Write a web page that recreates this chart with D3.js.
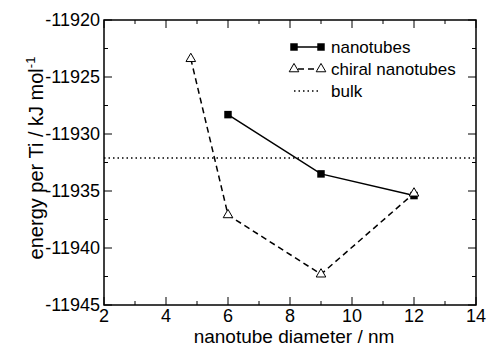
<!DOCTYPE html>
<html>
<head>
<meta charset="utf-8">
<script src="https://cdn.jsdelivr.net/npm/d3@7"></script>
<style>
  body { margin: 0; background: #fff; }
  text { font-family: "Liberation Sans", Arial, sans-serif; fill: #000; }
</style>
</head>
<body>
<script>
// data
const nanoX = [6, 9, 12];
const nanoY = [-11928.3, -11933.5, -11935.4];
const chiralX = [4.8, 6, 9, 12];
const chiralY = [-11923.4, -11937.1, -11942.3, -11935.2];
const bulkY = -11932.1;
const xTicks = [2, 4, 6, 8, 10, 12, 14];
const yTicks = [-11945, -11940, -11935, -11930, -11925, -11920];
const legendNames = ["nanotubes", "chiral nanotubes", "bulk"];

const W = 489, H = 347;
const margin = {top: 20, right: 13, bottom: 42, left: 104};
const width = W - margin.left - margin.right,
      height = H - margin.top - margin.bottom;

const svg = d3.select("body").append("svg")
  .attr("width", W).attr("height", H);
const g = svg.append("g")
  .attr("transform", "translate(" + margin.left + "," + margin.top + ")");

const x = d3.scaleLinear().domain([2, 14]).range([0, width]);
const y = d3.scaleLinear().domain([-11945, -11920]).range([height, 0]);

// minor ticks
const xMinor = d3.range(3, 14, 2);
const yMinor = d3.range(-11942.5, -11920, 5);

function ticks(sel, vals, len, side) {
  vals.forEach(v => {
    if (side === "bottom") sel.append("line").attr("x1", x(v)).attr("x2", x(v)).attr("y1", height).attr("y2", height - len);
    if (side === "top") sel.append("line").attr("x1", x(v)).attr("x2", x(v)).attr("y1", 0).attr("y2", len);
    if (side === "left") sel.append("line").attr("y1", y(v)).attr("y2", y(v)).attr("x1", 0).attr("x2", len);
    if (side === "right") sel.append("line").attr("y1", y(v)).attr("y2", y(v)).attr("x1", width).attr("x2", width - len);
  });
}
const tg = g.append("g").attr("stroke", "#000").attr("stroke-width", 1);
["bottom", "top"].forEach(s => { ticks(tg, xTicks, 8, s); ticks(tg, xMinor, 4, s); });
["left", "right"].forEach(s => { ticks(tg, yTicks, 8, s); ticks(tg, yMinor, 4, s); });

g.append("rect").attr("width", width).attr("height", height)
  .attr("fill", "none").attr("stroke", "#000").attr("stroke-width", 1.5);

// tick labels
g.selectAll(".xl").data(xTicks).enter().append("text")
  .attr("x", d => x(d)).attr("y", height + 17)
  .attr("text-anchor", "middle").style("font-size", "18px").text(d => d);
g.selectAll(".yl").data(yTicks).enter().append("text")
  .attr("x", -4).attr("y", d => y(d) + 6)
  .attr("text-anchor", "end").style("font-size", "18px").text(d => d);

// axis titles
svg.append("text").attr("x", 294).attr("y", H - 4)
  .attr("text-anchor", "middle").style("font-size", "19px").text("nanotube diameter / nm");
const yt = svg.append("text")
  .attr("transform", "translate(43," + 158 + ") rotate(-90)")
  .attr("text-anchor", "middle").style("font-size", "20px");
yt.append("tspan").text("energy per Ti / kJ mol");
yt.append("tspan").attr("dy", -8).style("font-size", "13px").text("-1");

// bulk line
g.append("line").attr("x1", 0).attr("x2", width).attr("y1", y(bulkY)).attr("y2", y(bulkY))
  .attr("stroke", "#000").attr("stroke-width", 1.5).attr("stroke-dasharray", "1.5,3");

const line = d3.line().x(d => x(d[0])).y(d => y(d[1]));
const chiral = chiralX.map((v, i) => [v, chiralY[i]]);
const nano = nanoX.map((v, i) => [v, nanoY[i]]);

g.append("path").attr("d", line(chiral)).attr("fill", "none")
  .attr("stroke", "#000").attr("stroke-width", 1.5).attr("stroke-dasharray", "6,4");
g.append("path").attr("d", line(nano)).attr("fill", "none")
  .attr("stroke", "#000").attr("stroke-width", 1.5);

const tri = d3.symbol().type(d3.symbolTriangle).size(40);
const sq = d3.symbol().type(d3.symbolSquare).size(56);

g.selectAll(".sq").data(nano).enter().append("path")
  .attr("d", sq).attr("transform", d => "translate(" + x(d[0]) + "," + y(d[1]) + ")")
  .attr("fill", "#000");
g.selectAll(".tri").data(chiral).enter().append("path")
  .attr("d", tri).attr("transform", d => "translate(" + x(d[0]) + "," + y(d[1]) + ")")
  .attr("fill", "#fff").attr("stroke", "#000").attr("stroke-width", 1);

// legend
const lg = svg.append("g");
const rows = [47, 69, 91];
const lx1 = 294, lx2 = 321;
// nanotubes
lg.append("line").attr("x1", lx1).attr("x2", lx2).attr("y1", rows[0]).attr("y2", rows[0])
  .attr("stroke", "#000").attr("stroke-width", 1.5);
[lx1, lx2].forEach(px => lg.append("path").attr("d", sq)
  .attr("transform", "translate(" + px + "," + rows[0] + ")").attr("fill", "#000"));
// chiral
lg.append("line").attr("x1", lx1).attr("x2", lx2).attr("y1", rows[1]).attr("y2", rows[1])
  .attr("stroke", "#000").attr("stroke-width", 1.5).attr("stroke-dasharray", "6,4").attr("stroke-dashoffset", -4);
[lx1, lx2].forEach(px => lg.append("path").attr("d", tri)
  .attr("transform", "translate(" + px + "," + rows[1] + ")")
  .attr("fill", "#fff").attr("stroke", "#000").attr("stroke-width", 1));
// bulk
lg.append("line").attr("x1", lx1).attr("x2", lx2).attr("y1", rows[2]).attr("y2", rows[2])
  .attr("stroke", "#000").attr("stroke-width", 1.5).attr("stroke-dasharray", "1.5,3");
lg.selectAll(".lt").data(legendNames).enter().append("text")
  .attr("x", 331).attr("y", (d, i) => rows[i] + 6)
  .style("font-size", "17px").text(d => d);
</script>
</body>
</html>
